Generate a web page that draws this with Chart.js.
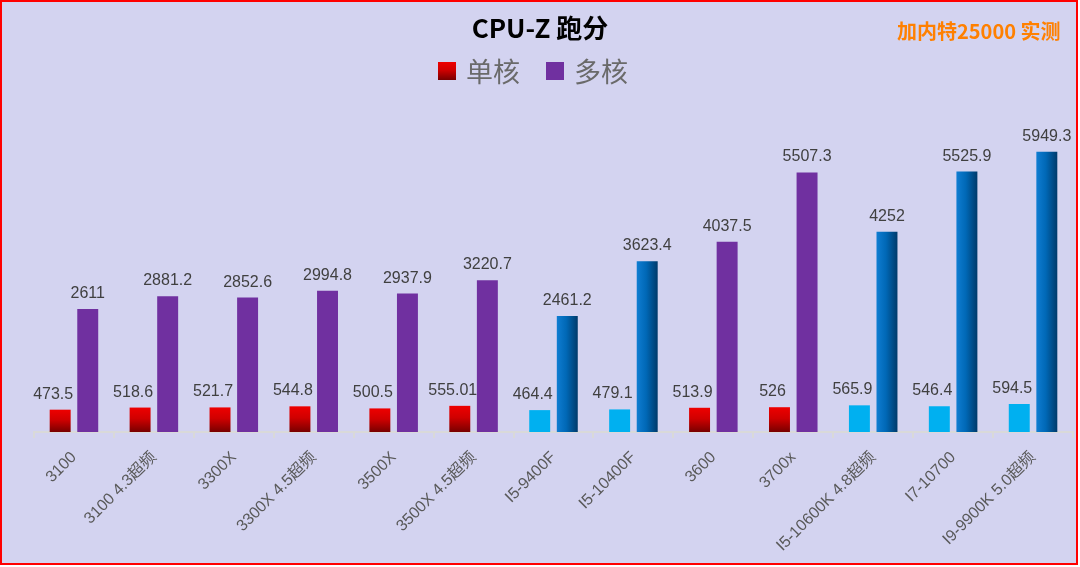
<!DOCTYPE html>
<html>
<head>
<meta charset="utf-8">
<script src="https://cdn.jsdelivr.net/npm/chart.js@4/dist/chart.umd.min.js"></script>
<style>
  html, body { margin: 0; padding: 0; background: #ffffff; }
  #wrap {
    position: absolute; left: 0; top: 0;
    width: 1078px; height: 565px;
    box-sizing: border-box;
    border: 2px solid #ff0000;
    background: #d3d3f0;
  }
  #title {
    position: absolute; left: 0; width: 1076px; top: 7px;
    text-align: center;
    font: bold 26px "Noto Sans CJK SC", sans-serif;
    color: #000000;
    line-height: 36px;
  }
  #note {
    position: absolute; left: 895px; top: 14px;
    font: bold 20px "Noto Sans CJK SC", sans-serif;
    color: #ff8000;
    white-space: nowrap;
  }
  #legend {
    position: absolute; left: 436px; top: 51px;
    display: flex; align-items: center; gap: 26px;
    font: 27px "Noto Sans CJK SC", sans-serif;
    color: #6a6a6a;
    line-height: 36px;
  }
  #legend span.item { display: flex; align-items: center; gap: 10px; }
  #legend i { display: inline-block; width: 18px; height: 18px; }
  canvas { display: block; }
</style>
</head>
<body>
<div id="wrap">
  <canvas id="chart-cpuz" width="1074" height="561"></canvas>
  <div id="title">CPU-Z 跑分</div>
  <div id="note">加内特25000 实测</div>
  <div id="legend"></div>
</div>
<script>
const labels = ["3100", "3100 4.3超频", "3300X", "3300X 4.5超频", "3500X", "3500X 4.5超频",
  "I5-9400F", "I5-10400F", "3600", "3700x", "I5-10600K 4.8超频", "I7-10700", "I9-9900K 5.0超频"];
const vendors = ["AMD", "AMD", "AMD", "AMD", "AMD", "AMD",
  "Intel", "Intel", "AMD", "AMD", "Intel", "Intel", "Intel"];
const singleCore = [473.5, 518.6, 521.7, 544.8, 500.5, 555.01, 464.4, 479.1, 513.9, 526, 565.9, 546.4, 594.5];
const multiCore = [2611, 2881.2, 2852.6, 2994.8, 2937.9, 3220.7, 2461.2, 3623.4, 4037.5, 5507.3, 4252, 5525.9, 5949.3];

const catPct = 0.69, barPct = 0.76;

Chart.defaults.font.family = "'Liberation Sans', 'Noto Sans CJK SC', sans-serif";

// where a bar sits, same maths as the bar controller
function barBox(context) {
  const chart = context.chart;
  const x = chart.scales.x, y = chart.scales.y;
  const catW = (x.right - x.left) / labels.length;
  const slot = catW * catPct / 2;
  const w = slot * barPct;
  const cx = x.getPixelForValue(context.dataIndex) + (context.datasetIndex - 0.5) * slot;
  return {
    left: cx - w / 2, right: cx + w / 2,
    top: y.getPixelForValue(context.raw), bottom: y.getPixelForValue(0)
  };
}

function singleColor(context) {
  if (vendors[context.dataIndex] === "Intel") return "#00b0f0";
  if (!context.chart.chartArea || context.raw === undefined) return "#d00000";
  const b = barBox(context);
  const g = context.chart.ctx.createLinearGradient(0, b.top, 0, b.bottom);
  g.addColorStop(0, "#ee0000");
  g.addColorStop(0.45, "#d00000");
  g.addColorStop(1, "#780000");
  return g;
}

function multiColor(context) {
  if (vendors[context.dataIndex] === "AMD") return "#7030a0";
  if (!context.chart.chartArea || context.raw === undefined) return "#0064b0";
  const b = barBox(context);
  const g = context.chart.ctx.createLinearGradient(b.left, 0, b.right, 0);
  g.addColorStop(0, "#0f7dd2");
  g.addColorStop(0.45, "#0068b6");
  g.addColorStop(1, "#003a6a");
  return g;
}

const valueLabels = {
  id: "valueLabels",
  afterDatasetsDraw(chart) {
    const ctx = chart.ctx;
    ctx.save();
    ctx.font = "16px 'Liberation Sans', sans-serif";
    ctx.fillStyle = "#404040";
    ctx.textAlign = "center";
    ctx.textBaseline = "alphabetic";
    chart.data.datasets.forEach((ds, di) => {
      const meta = chart.getDatasetMeta(di);
      const shift = di === 0 ? -7 : 0;
      meta.data.forEach((bar, i) => {
        ctx.fillText(String(ds.data[i]), bar.x + shift, bar.y - 11);
      });
    });
    ctx.restore();
  }
};

const config = {
  type: "bar",
  data: {
    labels: labels,
    datasets: [
      { label: "单核", data: singleCore, backgroundColor: singleColor,
        categoryPercentage: catPct, barPercentage: barPct },
      { label: "多核", data: multiCore, backgroundColor: multiColor,
        categoryPercentage: catPct, barPercentage: barPct }
    ]
  },
  options: {
    responsive: false,
    animation: false,
    layout: { padding: { left: 32, right: 3, top: 94, bottom: 0 } },
    scales: {
      x: {
        grid: { offset: true, drawOnChartArea: false, drawTicks: true, tickLength: 6,
          color: "#d9d9d9", lineWidth: 2 },
        border: { color: "#d9d9d9", width: 2 },
        ticks: { color: "#595959", font: { size: 16 }, minRotation: 45, maxRotation: 45,
          autoSkip: false, padding: 10 },
        afterFit(scale) { scale.height = 131; }
      },
      y: {
        display: false,
        min: 0,
        max: 7130
      }
    },
    plugins: {
      legend: { display: false },
      tooltip: { enabled: false }
    }
  },
  plugins: [valueLabels]
};

const ctx = document.getElementById("chart-cpuz");
let chart = new Chart(ctx, config);

// legend drawn as html, colours match the datasets
const legendBoxes = ["linear-gradient(#ee0000, #d00000 45%, #780000)", "#7030a0"];
const legendEl = document.getElementById("legend");
config.data.datasets.forEach((ds, i) => {
  const item = document.createElement("span");
  item.className = "item";
  const box = document.createElement("i");
  box.style.background = legendBoxes[i];
  item.appendChild(box);
  item.appendChild(document.createTextNode(ds.label));
  legendEl.appendChild(item);
});
</script>
</body>
</html>
